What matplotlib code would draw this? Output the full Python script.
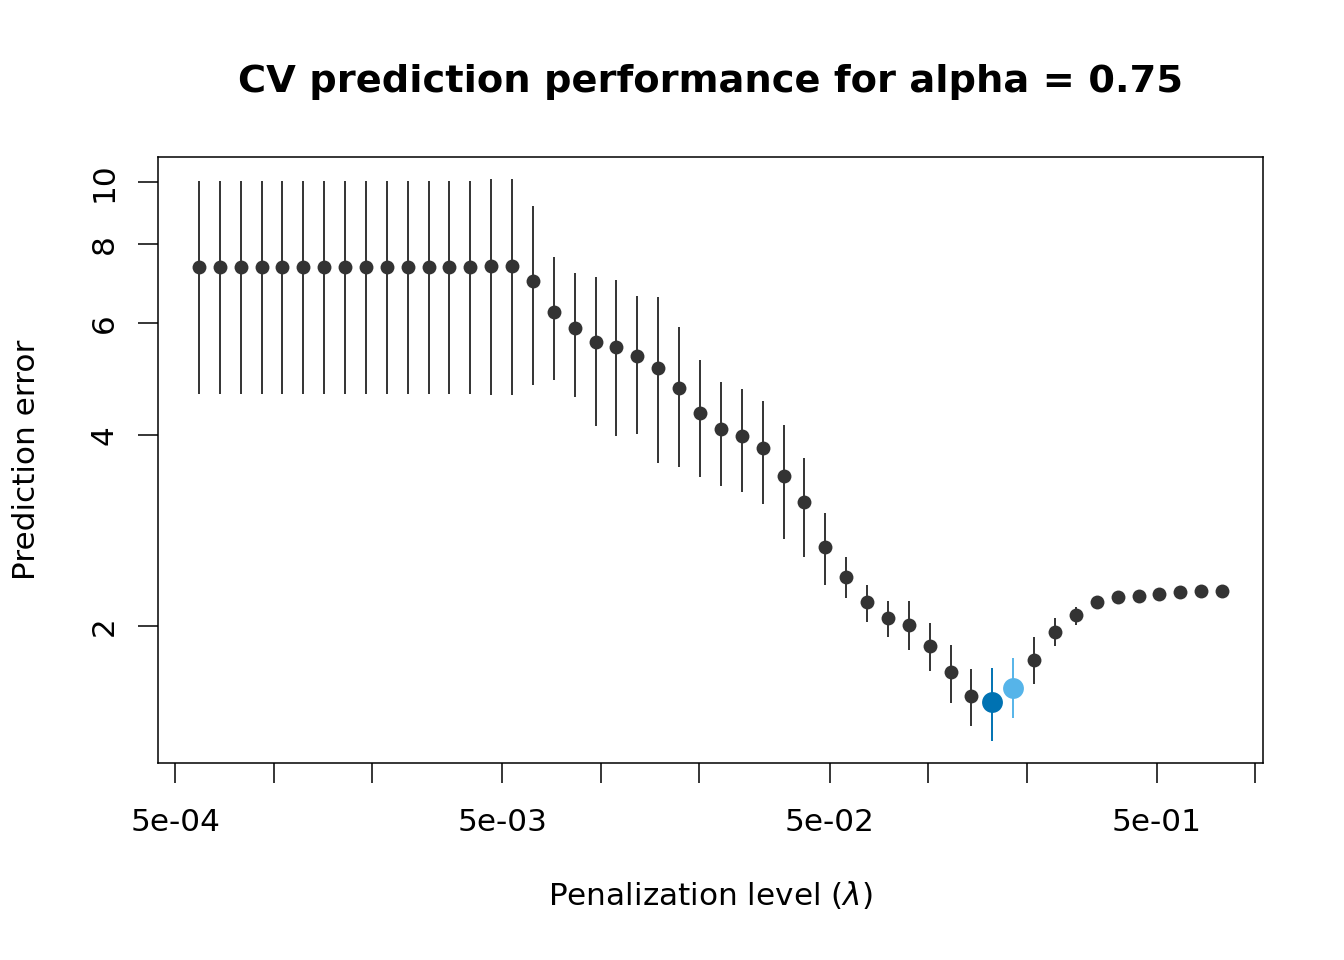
import matplotlib
matplotlib.use("Agg")
import matplotlib.pyplot as plt
import numpy as np
from matplotlib.ticker import FixedLocator, FixedFormatter, NullLocator

# penalization levels (lambda), smallest first
lambdas = [5.91e-4, 6.84e-4, 7.92e-4, 9.18e-4, 1.063e-3, 1.231e-3, 1.426e-3, 1.652e-3,
           1.914e-3, 2.217e-3, 2.567e-3, 2.974e-3, 3.445e-3, 3.990e-3, 4.621e-3, 5.353e-3,
           6.200e-3, 7.182e-3, 8.319e-3, 9.635e-3, 1.116e-2, 1.293e-2, 1.497e-2, 1.734e-2,
           2.009e-2, 2.327e-2, 2.695e-2, 3.122e-2, 3.616e-2, 4.189e-2, 4.852e-2, 5.620e-2,
           6.509e-2, 7.540e-2, 8.733e-2, 0.1012, 0.1172, 0.1357, 0.1572, 0.1821,
           0.2109, 0.2443, 0.2830, 0.3278, 0.3797, 0.4398, 0.5094, 0.5900, 0.6834, 0.7916]

# mean CV prediction error and the bar ends
cv_mean = [7.35, 7.35, 7.35, 7.35, 7.35, 7.35, 7.35, 7.35, 7.35, 7.35, 7.35, 7.35, 7.35, 7.35,
           7.37, 7.37, 6.98, 6.25, 5.89, 5.60, 5.50, 5.32, 5.09, 4.74, 4.33, 4.08, 3.99, 3.82,
           3.44, 3.13, 2.66, 2.39, 2.18, 2.06, 2.01, 1.86, 1.69, 1.55, 1.52, 1.60, 1.77, 1.96,
           2.08, 2.18, 2.22, 2.23, 2.25, 2.26, 2.27, 2.27]
cv_upper = [10.05, 10.05, 10.05, 10.05, 10.05, 10.05, 10.05, 10.05, 10.05, 10.05, 10.05, 10.05,
            10.05, 10.05, 10.10, 10.10, 9.16, 7.62, 7.19, 7.08, 7.02, 6.63, 6.60, 5.92, 5.24,
            4.84, 4.73, 4.53, 4.14, 3.68, 3.01, 2.57, 2.32, 2.19, 2.19, 2.02, 1.87, 1.71, 1.72,
            1.78, 1.92, 2.06, 2.14, 2.20, 2.235, 2.24, 2.26, 2.27, 2.28, 2.28]
cv_lower = [4.64, 4.64, 4.64, 4.64, 4.64, 4.64, 4.64, 4.64, 4.64, 4.64, 4.64, 4.64, 4.64, 4.64,
            4.62, 4.62, 4.80, 4.88, 4.59, 4.13, 3.99, 4.01, 3.61, 3.56, 3.43, 3.32, 3.25, 3.11,
            2.74, 2.57, 2.32, 2.21, 2.03, 1.92, 1.83, 1.70, 1.51, 1.39, 1.32, 1.43, 1.62, 1.86,
            2.01, 2.16, 2.205, 2.22, 2.24, 2.25, 2.26, 2.26]

idx_min = 38   # lambda.min
idx_1se = 39   # lambda.1se

x_ticks = [5e-4, 1e-3, 2e-3, 5e-3, 1e-2, 2e-2, 5e-2, 1e-1, 2e-1, 5e-1, 1.0]
x_labels = ["5e-04", "", "", "5e-03", "", "", "5e-02", "", "", "5e-01", ""]
y_ticks = [2, 4, 6, 8, 10]
y_labels = ["2", "4", "6", "8", "10"]

grey = "#333333"
blue_min = "#0072B2"
blue_1se = "#56B4E9"


def log_range(lo, hi, frac=0.04):
    # R style: stretch the range by 4% on each side, in log space
    a, b = np.log10(lo), np.log10(hi)
    d = (b - a) * frac
    return 10 ** (a - d), 10 ** (b + d)


W, H = 1344, 960
fig = plt.figure(figsize=(W / 100, H / 100), dpi=100)
ax = fig.add_axes([158 / W, 1 - 763 / H, (1263 - 158) / W, (763 - 157) / H])
ax.set_xscale("log")
ax.set_yscale("log")

rest = [i for i in range(len(lambdas)) if i not in (idx_min, idx_1se)]
ax.vlines([lambdas[i] for i in rest], [cv_lower[i] for i in rest],
          [cv_upper[i] for i in rest], color=grey, lw=1.4)
ax.plot([lambdas[i] for i in rest], [cv_mean[i] for i in rest], "o",
        color=grey, ms=10, mew=0)

for i, col in [(idx_min, blue_min), (idx_1se, blue_1se)]:
    ax.vlines(lambdas[i], cv_lower[i], cv_upper[i], color=col, lw=1.4)
    ax.plot(lambdas[i], cv_mean[i], "o", color=col, ms=15, mew=0)

ax.set_xlim(*log_range(min(lambdas), max(lambdas)))
ax.set_ylim(*log_range(min(cv_lower), max(cv_upper)))

fs = 22.4
ax.xaxis.set_major_locator(FixedLocator(x_ticks))
ax.xaxis.set_major_formatter(FixedFormatter(x_labels))
ax.xaxis.set_minor_locator(NullLocator())
ax.yaxis.set_major_locator(FixedLocator(y_ticks))
ax.yaxis.set_major_formatter(FixedFormatter(y_labels))
ax.yaxis.set_minor_locator(NullLocator())
ax.tick_params(axis="both", direction="out", length=14.4, width=1.1, labelsize=fs)
ax.tick_params(axis="x", pad=18)
ax.tick_params(axis="y", pad=14, labelrotation=90)
for lab in ax.get_yticklabels():
    lab.set_va("center")

for sp in ax.spines.values():
    sp.set_linewidth(1.1)

fig.text(710.5 / W, 1 - 92 / H, "CV prediction performance for alpha = 0.75",
         ha="center", va="baseline", fontsize=27.6, fontweight="bold")
fig.text(710.5 / W, 1 - 905 / H, r"Penalization level ($\lambda$)",
         ha="center", va="baseline", fontsize=fs)
fig.text(35 / W, 1 - 460 / H, "Prediction error", rotation=90, rotation_mode="anchor",
         ha="center", va="baseline", fontsize=fs)

fig.savefig("out.png", dpi=100)
